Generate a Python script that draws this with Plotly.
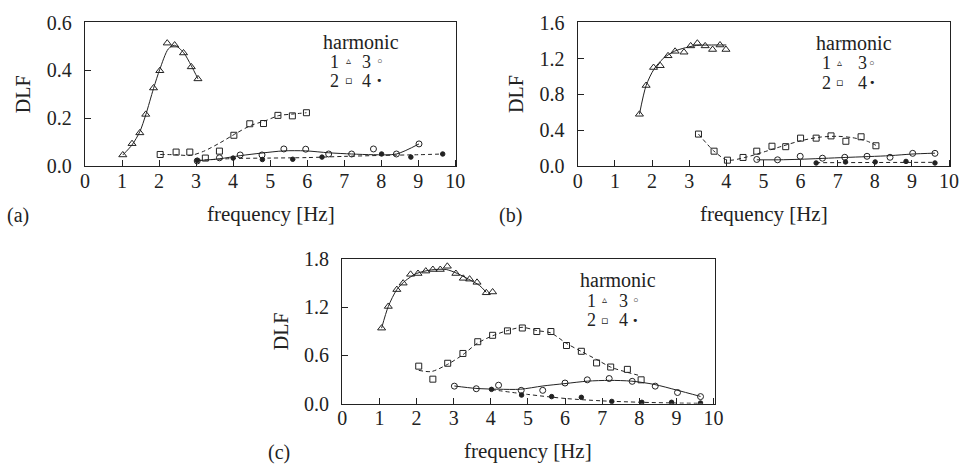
import plotly.graph_objects as go

W, H = 972, 476

# ---------------- panel (a) ----------------
a1_f = [1.02, 1.27, 1.48, 1.64, 1.85, 2.02, 2.22, 2.42, 2.66, 2.87, 3.05]
a1_dlf = [0.048, 0.095, 0.140, 0.217, 0.327, 0.399, 0.514, 0.506, 0.473, 0.415, 0.365]
a1_fit_f = [1.02, 1.27, 1.48, 1.64, 1.85, 2.02, 2.25, 2.42, 2.66, 2.87, 3.05]
a1_fit_dlf = [0.048, 0.09, 0.145, 0.215, 0.325, 0.405, 0.49, 0.505, 0.475, 0.42, 0.365]

a2_f = [2.03, 2.46, 2.83, 3.25, 3.63, 4.02, 4.45, 4.82, 5.21, 5.60, 5.98]
a2_dlf = [0.050, 0.060, 0.060, 0.035, 0.064, 0.130, 0.178, 0.179, 0.213, 0.211, 0.224]
a2_fit_f = [2.03, 2.45, 2.85, 3.2, 3.64, 4.08, 4.48, 4.88, 5.23, 5.58, 5.98]
a2_fit_dlf = [0.050, 0.049, 0.046, 0.063, 0.098, 0.138, 0.171, 0.191, 0.212, 0.218, 0.224]

a3_f = [3.03, 3.63, 4.19, 4.78, 5.37, 5.96, 6.58, 7.20, 7.79, 8.41, 9.02]
a3_dlf = [0.023, 0.036, 0.048, 0.048, 0.073, 0.072, 0.052, 0.052, 0.073, 0.052, 0.094]
a3_fit_f = [3.03, 3.63, 4.19, 4.78, 5.37, 5.96, 6.58, 7.20, 7.79, 8.41, 9.02]
a3_fit_dlf = [0.024, 0.032, 0.045, 0.056, 0.065, 0.065, 0.057, 0.052, 0.049, 0.052, 0.094]

a4_f = [3.03, 4.00, 4.79, 5.61, 6.40, 8.01, 8.80, 9.66]
a4_dlf = [0.025, 0.035, 0.029, 0.030, 0.039, 0.052, 0.039, 0.052]
a4_fit_f = [3.03, 4.0, 5.0, 6.0, 7.0, 8.0, 9.0, 9.66]
a4_fit_dlf = [0.025, 0.033, 0.035, 0.037, 0.042, 0.046, 0.049, 0.052]

# ---------------- panel (b) ----------------
b1_f = [1.66, 1.84, 2.04, 2.22, 2.43, 2.62, 2.86, 3.04, 3.22, 3.43, 3.63, 3.83, 3.99]
b1_dlf = [0.58, 0.90, 1.10, 1.12, 1.23, 1.28, 1.27, 1.34, 1.37, 1.34, 1.30, 1.35, 1.30]
b1_fit_f = [1.66, 1.84, 2.05, 2.3, 2.6, 2.9, 3.2, 3.6, 4.0]
b1_fit_dlf = [0.58, 0.90, 1.08, 1.20, 1.28, 1.32, 1.345, 1.35, 1.35]

b2_f = [3.25, 3.67, 4.03, 4.45, 4.82, 5.23, 5.60, 6.00, 6.42, 6.82, 7.22, 7.63, 8.03]
b2_dlf = [0.36, 0.17, 0.07, 0.10, 0.17, 0.225, 0.22, 0.315, 0.315, 0.34, 0.28, 0.33, 0.23]
b2_fit_f = [3.25, 3.67, 4.03, 4.5, 5.0, 5.5, 6.0, 6.5, 7.0, 7.4, 7.8, 8.03]
b2_fit_dlf = [0.36, 0.17, 0.07, 0.10, 0.16, 0.225, 0.285, 0.325, 0.335, 0.32, 0.28, 0.235]

b3_f = [4.82, 5.38, 5.99, 6.59, 7.19, 7.79, 8.41, 9.02, 9.62]
b3_dlf = [0.078, 0.074, 0.113, 0.092, 0.102, 0.113, 0.102, 0.146, 0.146]
b3_fit_f = [4.82, 5.4, 6.0, 7.2, 8.4, 9.0, 9.62]
b3_fit_dlf = [0.074, 0.074, 0.08, 0.10, 0.12, 0.138, 0.148]

b4_f = [6.42, 7.21, 8.01, 8.84, 9.62]
b4_dlf = [0.039, 0.050, 0.050, 0.056, 0.039]
b4_fit_f = [6.42, 9.62]
b4_fit_dlf = [0.042, 0.046]

# ---------------- panel (c) ----------------
c1_f = [1.06, 1.24, 1.47, 1.64, 1.84, 2.04, 2.25, 2.44, 2.64, 2.83, 3.06, 3.26, 3.43, 3.63, 3.88, 4.05]
c1_dlf = [0.94, 1.21, 1.42, 1.50, 1.61, 1.62, 1.65, 1.67, 1.67, 1.71, 1.62, 1.56, 1.55, 1.51, 1.38, 1.39]
c1_fit_f = [1.06, 1.24, 1.47, 1.7, 2.0, 2.4, 2.8, 3.1, 3.4, 3.7, 3.88]
c1_fit_dlf = [0.94, 1.21, 1.42, 1.53, 1.62, 1.665, 1.67, 1.62, 1.55, 1.47, 1.385]

c2_f = [2.06, 2.44, 2.84, 3.25, 3.65, 4.05, 4.45, 4.85, 5.24, 5.62, 6.04, 6.44, 6.85, 7.23, 7.68, 8.05]
c2_dlf = [0.467, 0.305, 0.503, 0.625, 0.771, 0.851, 0.906, 0.942, 0.898, 0.898, 0.724, 0.652, 0.507, 0.456, 0.427, 0.297]
c2_fit_f = [2.06, 2.4, 2.84, 3.25, 3.65, 4.05, 4.45, 4.85, 5.24, 5.62, 6.04, 6.44, 6.85, 7.23, 7.68, 8.05]
c2_fit_dlf = [0.415, 0.40, 0.49, 0.61, 0.755, 0.845, 0.91, 0.95, 0.91, 0.88, 0.75, 0.65, 0.55, 0.455, 0.39, 0.345]

c3_f = [3.02, 3.61, 4.21, 4.82, 5.40, 6.00, 6.60, 7.19, 7.81, 8.43, 9.03, 9.65]
c3_dlf = [0.218, 0.186, 0.230, 0.166, 0.166, 0.257, 0.297, 0.313, 0.278, 0.218, 0.139, 0.088]
c3_fit_f = [3.02, 3.6, 4.2, 4.8, 5.4, 6.0, 6.6, 7.2, 7.8, 8.4, 9.0, 9.65]
c3_fit_dlf = [0.22, 0.19, 0.18, 0.18, 0.22, 0.25, 0.28, 0.29, 0.28, 0.24, 0.17, 0.09]

c4_f = [4.02, 4.83, 5.64, 6.44, 7.26, 8.07, 8.87, 9.65]
c4_dlf = [0.178, 0.107, 0.088, 0.079, 0.028, 0.017, 0.017, 0.008]
c4_fit_f = [4.02, 5.0, 6.0, 7.0, 8.0, 9.0, 9.65]
c4_fit_dlf = [0.175, 0.115, 0.065, 0.035, 0.018, 0.008, 0.005]

x_ticks = list(range(0, 11))
y_ticks_a = [0.0, 0.2, 0.4, 0.6]
y_ticks_b = [0.0, 0.4, 0.8, 1.2, 1.6]
y_ticks_c = [0.0, 0.6, 1.2, 1.8]

INK = "#222222"
SERIF = "Liberation Serif, Times New Roman, serif"
SYM = "DejaVu Sans, sans-serif"
FS = 20

# panel frames in pixels: (left, top, right, bottom)
frames = {
    "a": (81, 12, 458, 163),
    "b": (581, 12, 959, 163),
    "c": (342, 260, 720, 411.7),
}


def px_x(p):
    return p / W


def px_y(p):
    return 1 - p / H


fig = go.Figure()

markers = {
    1: dict(symbol="triangle-up-open", size=7),
    2: dict(symbol="square-open", size=6),
    3: dict(symbol="circle-open", size=6),
    4: dict(symbol="circle", size=4.5),
}
line_dash = {1: "solid", 2: "dash", 3: "solid", 4: "dash"}

panels = {
    "a": [(a1_f, a1_dlf, a1_fit_f, a1_fit_dlf), (a2_f, a2_dlf, a2_fit_f, a2_fit_dlf),
          (a3_f, a3_dlf, a3_fit_f, a3_fit_dlf), (a4_f, a4_dlf, a4_fit_f, a4_fit_dlf)],
    "b": [(b1_f, b1_dlf, b1_fit_f, b1_fit_dlf), (b2_f, b2_dlf, b2_fit_f, b2_fit_dlf),
          (b3_f, b3_dlf, b3_fit_f, b3_fit_dlf), (b4_f, b4_dlf, b4_fit_f, b4_fit_dlf)],
    "c": [(c1_f, c1_dlf, c1_fit_f, c1_fit_dlf), (c2_f, c2_dlf, c2_fit_f, c2_fit_dlf),
          (c3_f, c3_dlf, c3_fit_f, c3_fit_dlf), (c4_f, c4_dlf, c4_fit_f, c4_fit_dlf)],
}
axis_ids = {"a": ("x", "y"), "b": ("x2", "y2"), "c": ("x3", "y3")}

for key, series in panels.items():
    xa, ya = axis_ids[key]
    for h, (f, d, ff, fd) in enumerate(series, start=1):
        shape = "linear" if len(ff) <= 2 else "spline"
        fig.add_trace(go.Scatter(
            x=ff, y=fd, xaxis=xa, yaxis=ya, mode="lines", hoverinfo="skip",
            line=dict(color=INK, width=1, dash="4px,3px" if line_dash[h] == "dash" else "solid",
                      shape=shape, smoothing=0.8),
            showlegend=False))
        fig.add_trace(go.Scatter(
            x=f, y=d, xaxis=xa, yaxis=ya, mode="markers",
            marker=dict(color=INK, line=dict(color=INK, width=1), **markers[h]),
            showlegend=False))


def axis_pair(key, yticks):
    l, t, r, b = frames[key]
    xdom = [px_x(l), px_x(r)]
    ydom = [px_y(b), px_y(t)]
    common = dict(showline=True, linecolor=INK, linewidth=1.3, mirror=True,
                  ticks="inside", ticklen=6, tickwidth=1.2, tickcolor=INK,
                  showgrid=False, zeroline=False,
                  tickfont=dict(family=SERIF, size=FS, color=INK))
    xa = dict(domain=xdom, range=[-0.005, 10.03], tickvals=x_ticks,
              ticklabelstandoff=-4, **common)
    ya = dict(domain=ydom, range=[0, yticks[-1] * 1.0005], tickvals=yticks,
              tickformat=".1f", ticklabelstandoff=8, **common)
    return xa, ya


xa1, ya1 = axis_pair("a", y_ticks_a)
xa2, ya2 = axis_pair("b", y_ticks_b)
xa3, ya3 = axis_pair("c", y_ticks_c)
ya1["anchor"] = "x"
xa1["anchor"] = "y"
ya2["anchor"] = "x2"
xa2["anchor"] = "y2"
ya3["anchor"] = "x3"
xa3["anchor"] = "y3"

annotations = []


def text(s, x, y, size=FS, family=SERIF, angle=0):
    annotations.append(dict(text=s, x=px_x(x), y=px_y(y), xref="paper", yref="paper",
                            showarrow=False, xanchor="center", yanchor="middle",
                            borderpad=0, textangle=angle,
                            font=dict(family=family, size=size, color=INK)))


for key in "abc":
    l, t, r, b = frames[key]
    cx = (l + r) / 2
    text("DLF", l - 62, (t + b) / 2, angle=-90)
    text("frequency [Hz]", cx, b + 50, size=21)

text("(a)", 13, 214)
text("(b)", 513, 214)
text("(c)", 278, 463)

# legend blocks: heading, then two rows of "number glyph"
legend_pos = {
    "a": (361, 32, 334, 349, 367, 380, 53, 73),
    "b": (861, 34, 834, 847, 870, 880, 55, 75),
    "c": (622, 282, 595, 608, 628, 640, 304, 324),
}
for key, (hx, hy, n1, g1, n2, g2, r1, r2) in legend_pos.items():
    text("harmonic", hx, hy)
    text("1", n1, r1, size=18)
    text("▵", g1, r1 - 1, size=10, family=SYM)
    text("3", n2, r1, size=18)
    text("◦", g2, r1, size=13, family=SYM)
    text("2", n1, r2, size=18)
    text("▫", g1, r2, size=11, family=SYM)
    text("4", n2, r2, size=18)
    text("•", g2, r2, size=11, family=SYM)

fig.update_layout(
    width=W, height=H, margin=dict(l=0, r=0, t=0, b=0),
    paper_bgcolor="white", plot_bgcolor="white",
    xaxis=xa1, yaxis=ya1, xaxis2=xa2, yaxis2=ya2, xaxis3=xa3, yaxis3=ya3,
    annotations=annotations, showlegend=False,
)

fig.write_html("out.html")
